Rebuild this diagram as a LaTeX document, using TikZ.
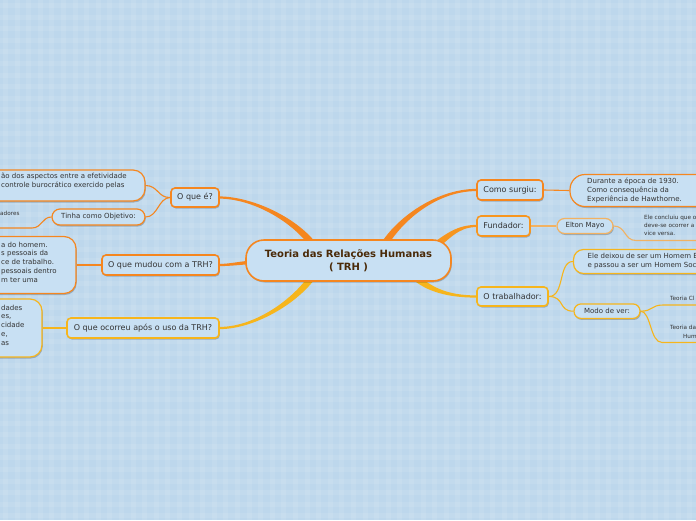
\documentclass[tikz,border=0pt]{standalone}
\usepackage{fontspec}
\setmainfont{DejaVu Sans}
\usetikzlibrary{calc,shadows}
\pgfdeclarelayer{bg}
\pgfdeclarelayer{conn}
\pgfsetlayers{bg,conn,main}
\definecolor{bgblue}{HTML}{BDD7EC}
\definecolor{nodefill}{HTML}{C8E0F3}
\definecolor{orng}{HTML}{F5861F}
\definecolor{orng2}{HTML}{F7961F}
\definecolor{ylw}{HTML}{F6B51C}
\definecolor{lorng}{HTML}{F2B262}
\definecolor{txt}{HTML}{333333}
\definecolor{ctxt}{HTML}{4A2A08}
\tikzset{
  base/.style={draw, fill=nodefill, text=txt, inner sep=0pt,
    drop shadow={shadow xshift=0.8pt, shadow yshift=-1.5pt, opacity=0.22, fill=black}},
  mainnode/.style={base, rounded corners=4pt, line width=1.6pt, font=\fontsize{8}{10}\selectfont},
  subnode/.style={base, line width=1.2pt, font=\fontsize{7}{8.7}\selectfont},
  boxtext/.style={text=txt, inner sep=0pt, align=left, font=\fontsize{7}{8.7}\selectfont},
  tinytext/.style={text=txt, inner sep=0pt, align=left, font=\fontsize{5.7}{7.8}\selectfont},
  conline/.style={line width=1.1pt},
}
\newcommand\taper[6]{\fill[#1] ($(#2)+(#6)$) .. controls ($(#3)+(#6)$) and ($(#4)+(0,1.1)$) .. ($(#5)+(0,1.1)$) -- ($(#5)+(0,-1.1)$) .. controls ($(#4)+(0,-1.1)$) and ($(#3)-(#6)$) .. ($(#2)-(#6)$) -- cycle;}
\begin{document}
\begin{tikzpicture}[x=1pt,y=-1pt]
\useasboundingbox (0,0) rectangle (696,520);
\begin{pgfonlayer}{bg}
\fill[bgblue] (0,0) rectangle (696,520);
\foreach \i in {0,...,60} {\fill[white,opacity=0.09] (\i*11.6+3,0) rectangle (\i*11.6+8,520);}
\foreach \j in {0,...,45} {\fill[white,opacity=0.09] (0,\j*11.6+3) rectangle (696,\j*11.6+8);}
\end{pgfonlayer}

% central node
\node[mainnode, draw=orng, rounded corners=18pt, minimum width=205pt, minimum height=41pt,
  text=ctxt, font=\bfseries\fontsize{10}{13}\selectfont, align=center] (trh) at (348.5,260.5)
  {Teoria das Relações Humanas\\( TRH )};

% main nodes
\node[mainnode, draw=orng, minimum width=48pt, minimum height=19pt] (oque) at (195,197.5) {O que é?};
\node[mainnode, draw=orng, minimum width=117pt, minimum height=20pt] (mudou) at (160.5,265) {O que mudou com a TRH?};
\node[mainnode, draw=ylw, minimum width=152pt, minimum height=20pt] (ocorreu) at (143,328) {O que ocorreu após o uso da TRH?};
\node[mainnode, draw=orng, minimum width=66pt, minimum height=20pt] (como) at (510,190) {Como surgiu:};
\node[mainnode, draw=orng2, minimum width=53pt, minimum height=20pt] (fund) at (503.5,226) {Fundador:};
\node[mainnode, draw=ylw, minimum width=71pt, minimum height=19pt] (trab) at (512.5,296.5) {O trabalhador:};

% left sub nodes
\node[subnode, draw=orng, rounded corners=12pt, minimum width=200pt, minimum height=31pt] (defbox) at (45,185.5) {};
\node[boxtext, anchor=west] (deftext) at (1,181) {ão dos aspectos entre a efetividade\\controle burocrático exercido pelas};
\node[subnode, draw=orng, rounded corners=8pt, minimum width=93pt, minimum height=16pt] (obj) at (98.5,217) {Tinha como Objetivo:};
\node[tinytext, anchor=west] (adores) at (0,213) {adores};
\coordinate (adA) at (32,228);
\coordinate (adB) at (-5,228);
\node[subnode, draw=orng, rounded corners=12pt, minimum width=136pt, minimum height=57pt] (mudoubox) at (8,265) {};
\node[boxtext, anchor=west] (mudoutext) at (1,262) {a do homem.\\s pessoais da\\ce de trabalho.\\pessoais dentro\\m ter uma};
\node[subnode, draw=ylw, rounded corners=12pt, minimum width=102pt, minimum height=58pt] (ocbox) at (-9,328) {};
\node[boxtext, anchor=west] (octext) at (1,325) {dades\\es,\\cidade\\e,\\as};

% right sub nodes
\node[subnode, draw=orng, rounded corners=15pt, minimum width=140pt, minimum height=32pt] (comobox) at (640,190.5) {};
\node[boxtext, anchor=west] (comotext) at (587,190.5) {Durante a época de 1930.\\Como consequência da\\Experiência de Hawthorne.};
\node[subnode, draw=lorng, rounded corners=7.5pt, minimum width=56pt, minimum height=15pt] (elton) at (585,226) {Elton Mayo};
\node[tinytext, anchor=west] (concl) at (644,225.5) {Ele concluiu que o\\deve-se ocorrer a\\vice versa.};
\coordinate (conclA) at (636,240.5);
\coordinate (conclB) at (700,240.5);
\node[subnode, draw=ylw, rounded corners=10pt, minimum width=136pt, minimum height=24pt] (trabbox) at (641.5,261.5) {};
\node[boxtext, anchor=west] (trabtext) at (587.5,261.2) {Ele deixou de ser um Homem E\\e passou a ser um Homem Soc};
\node[subnode, draw=ylw, rounded corners=7pt, minimum width=66pt, minimum height=14.5pt] (modo) at (607,311.2) {Modo de ver:};
\node[tinytext, anchor=west] (tcl) at (670,298.3) {Teoria Cl};
\node[tinytext, anchor=west] (tda) at (670,327.3) {Teoria da};
\node[tinytext, anchor=west] (hum) at (683,336.7) {Hum};
\coordinate (tclA) at (663,305);
\coordinate (tclB) at (700,305);
\coordinate (tdaA) at (662,342.5);
\coordinate (tdaB) at (700,342.5);

% start points of the main branches (hidden under the central node)
\coordinate (s1) at (318,252);
\coordinate (s2) at (255,262);
\coordinate (s3) at (318,268);
\coordinate (s4) at (380,252);
\coordinate (s5) at (430,250);
\coordinate (s6) at (410,272);

\begin{pgfonlayer}{conn}
\taper{orng}{s1}{300,222}{255,198}{oque.east}{-3,1.8}
\taper{orng}{s2}{240,263}{230,265}{mudou.east}{0,1.8}
\taper{ylw}{s3}{300,300}{255,328}{ocorreu.east}{3,1.7}
\taper{orng}{s4}{395,222}{435,190}{como.west}{3.1,1.6}
\taper{orng2}{s5}{448,236}{458,226}{fund.west}{2.1,2.8}
\taper{ylw}{s6}{425,288}{445,296.5}{trab.west}{-2.6,2.4}

\draw[conline, orng] (oque.west) .. controls (158,198) and (158,185.5) .. (defbox.east);
\draw[conline, orng] (oque.west) .. controls (158,198) and (158,217) .. (obj.east);
\draw[conline, orng] (obj.west) .. controls (42,217) and (42,228) .. (adA) -- (adB);
\draw[conline, orng] (mudou.west) -- (mudoubox.east);
\draw[conline, ylw] (ocorreu.west) -- (ocbox.east);
\draw[conline, orng] (como.east) -- (comobox.west);
\draw[line width=2.5pt, lorng] (fund.east) -- (elton.west);
\draw[conline, lorng] (elton.east) .. controls (626,226) and (624,240.5) .. (conclA) -- (conclB);
\draw[conline, ylw] (trab.east) .. controls (565,296.5) and (558,261.5) .. (trabbox.west);
\draw[conline, ylw] (trab.east) .. controls (565,296.5) and (558,311.2) .. (modo.west);
\draw[conline, ylw] (modo.east) .. controls (653,311.2) and (651,305) .. (tclA) -- (tclB);
\draw[conline, ylw] (modo.east) .. controls (651,311.2) and (650,342.5) .. (tdaA) -- (tdaB);
\end{pgfonlayer}
\end{tikzpicture}
\end{document}
